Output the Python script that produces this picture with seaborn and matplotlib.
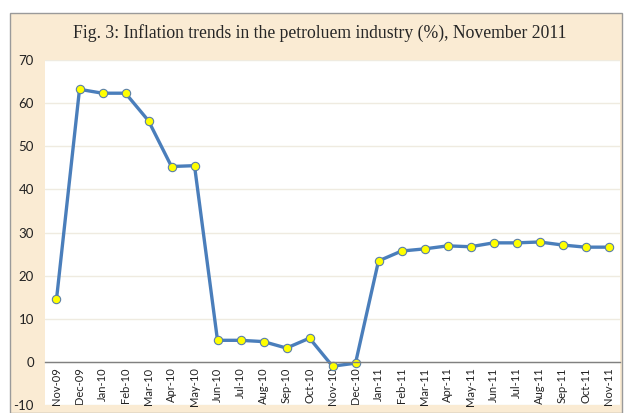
import pandas as pd
import matplotlib.pyplot as plt
import seaborn as sns
from matplotlib.patches import Rectangle

# 資料
months = ['Nov-09', 'Dec-09', 'Jan-10', 'Feb-10', 'Mar-10', 'Apr-10', 'May-10',
          'Jun-10', 'Jul-10', 'Aug-10', 'Sep-10', 'Oct-10', 'Nov-10', 'Dec-10',
          'Jan-11', 'Feb-11', 'Mar-11', 'Apr-11', 'May-11', 'Jun-11', 'Jul-11',
          'Aug-11', 'Sep-11', 'Oct-11', 'Nov-11']
inflation = [14.5, 63.2, 62.3, 62.3, 55.9, 45.3, 45.5,
             5.0, 5.0, 4.7, 3.2, 5.5, -1.0, -0.3,
             23.4, 25.7, 26.2, 26.9, 26.7, 27.6, 27.6,
             27.8, 27.1, 26.6, 26.6]
y_ticks = [-10, 0, 10, 20, 30, 40, 50, 60, 70]

df = pd.DataFrame({'month': months, 'inflation': inflation})

sns.set_theme(style='white')
plt.rcParams['font.family'] = ['Lato', 'DejaVu Sans']

fig = plt.figure(figsize=(6.24, 4.13), dpi=100)
fig.patch.set_facecolor('white')

# 外框米色背景
bg = Rectangle((10 / 624, 0), 612 / 624, 1 - 13 / 413,
               transform=fig.transFigure, facecolor='#FAEBD3',
               edgecolor='#9a9a9a', linewidth=1, zorder=-10)
fig.add_artist(bg)

ax = fig.add_axes([45 / 624, 8 / 413, 575 / 624, 345 / 413])
ax.set_zorder(1)
ax.set_facecolor('white')

sns.lineplot(data=df, x='month', y='inflation', sort=False, ax=ax,
             color='#4A7EBB', linewidth=2.4,
             marker='o', markersize=6, markerfacecolor='#FFFF00',
             markeredgecolor='#5A7FA8', markeredgewidth=0.8)

ax.set_ylim(-10, 70)
ax.set_xlim(-0.5, len(months) - 0.5)
ax.set_yticks(y_ticks)
ax.set_yticklabels([str(v) for v in y_ticks])
ax.yaxis.grid(True, color='#EFEBE0', linewidth=1)
ax.set_axisbelow(True)

ax.set_xticks(range(len(months)))
ax.set_xticklabels(months)
ax.tick_params(axis='x', length=0, pad=4, labelrotation=90, labelsize=8,
               labelcolor='#222222')
ax.tick_params(axis='y', length=0, pad=8, labelsize=9.5,
               labelcolor='#222222')

for s in ['top', 'right', 'left']:
    ax.spines[s].set_visible(False)
ax.spines['bottom'].set_position(('data', 0))
ax.spines['bottom'].set_color('#808080')
ax.spines['bottom'].set_linewidth(1)

ax.set_xlabel('')
ax.set_ylabel('')

fig.text(0.512, 1 - 33 / 413,
         'Fig. 3: Inflation trends in the petroluem industry (%), November 2011',
         ha='center', va='center', fontsize=12.7, family='Liberation Serif')

fig.savefig('out.png', dpi=100)
